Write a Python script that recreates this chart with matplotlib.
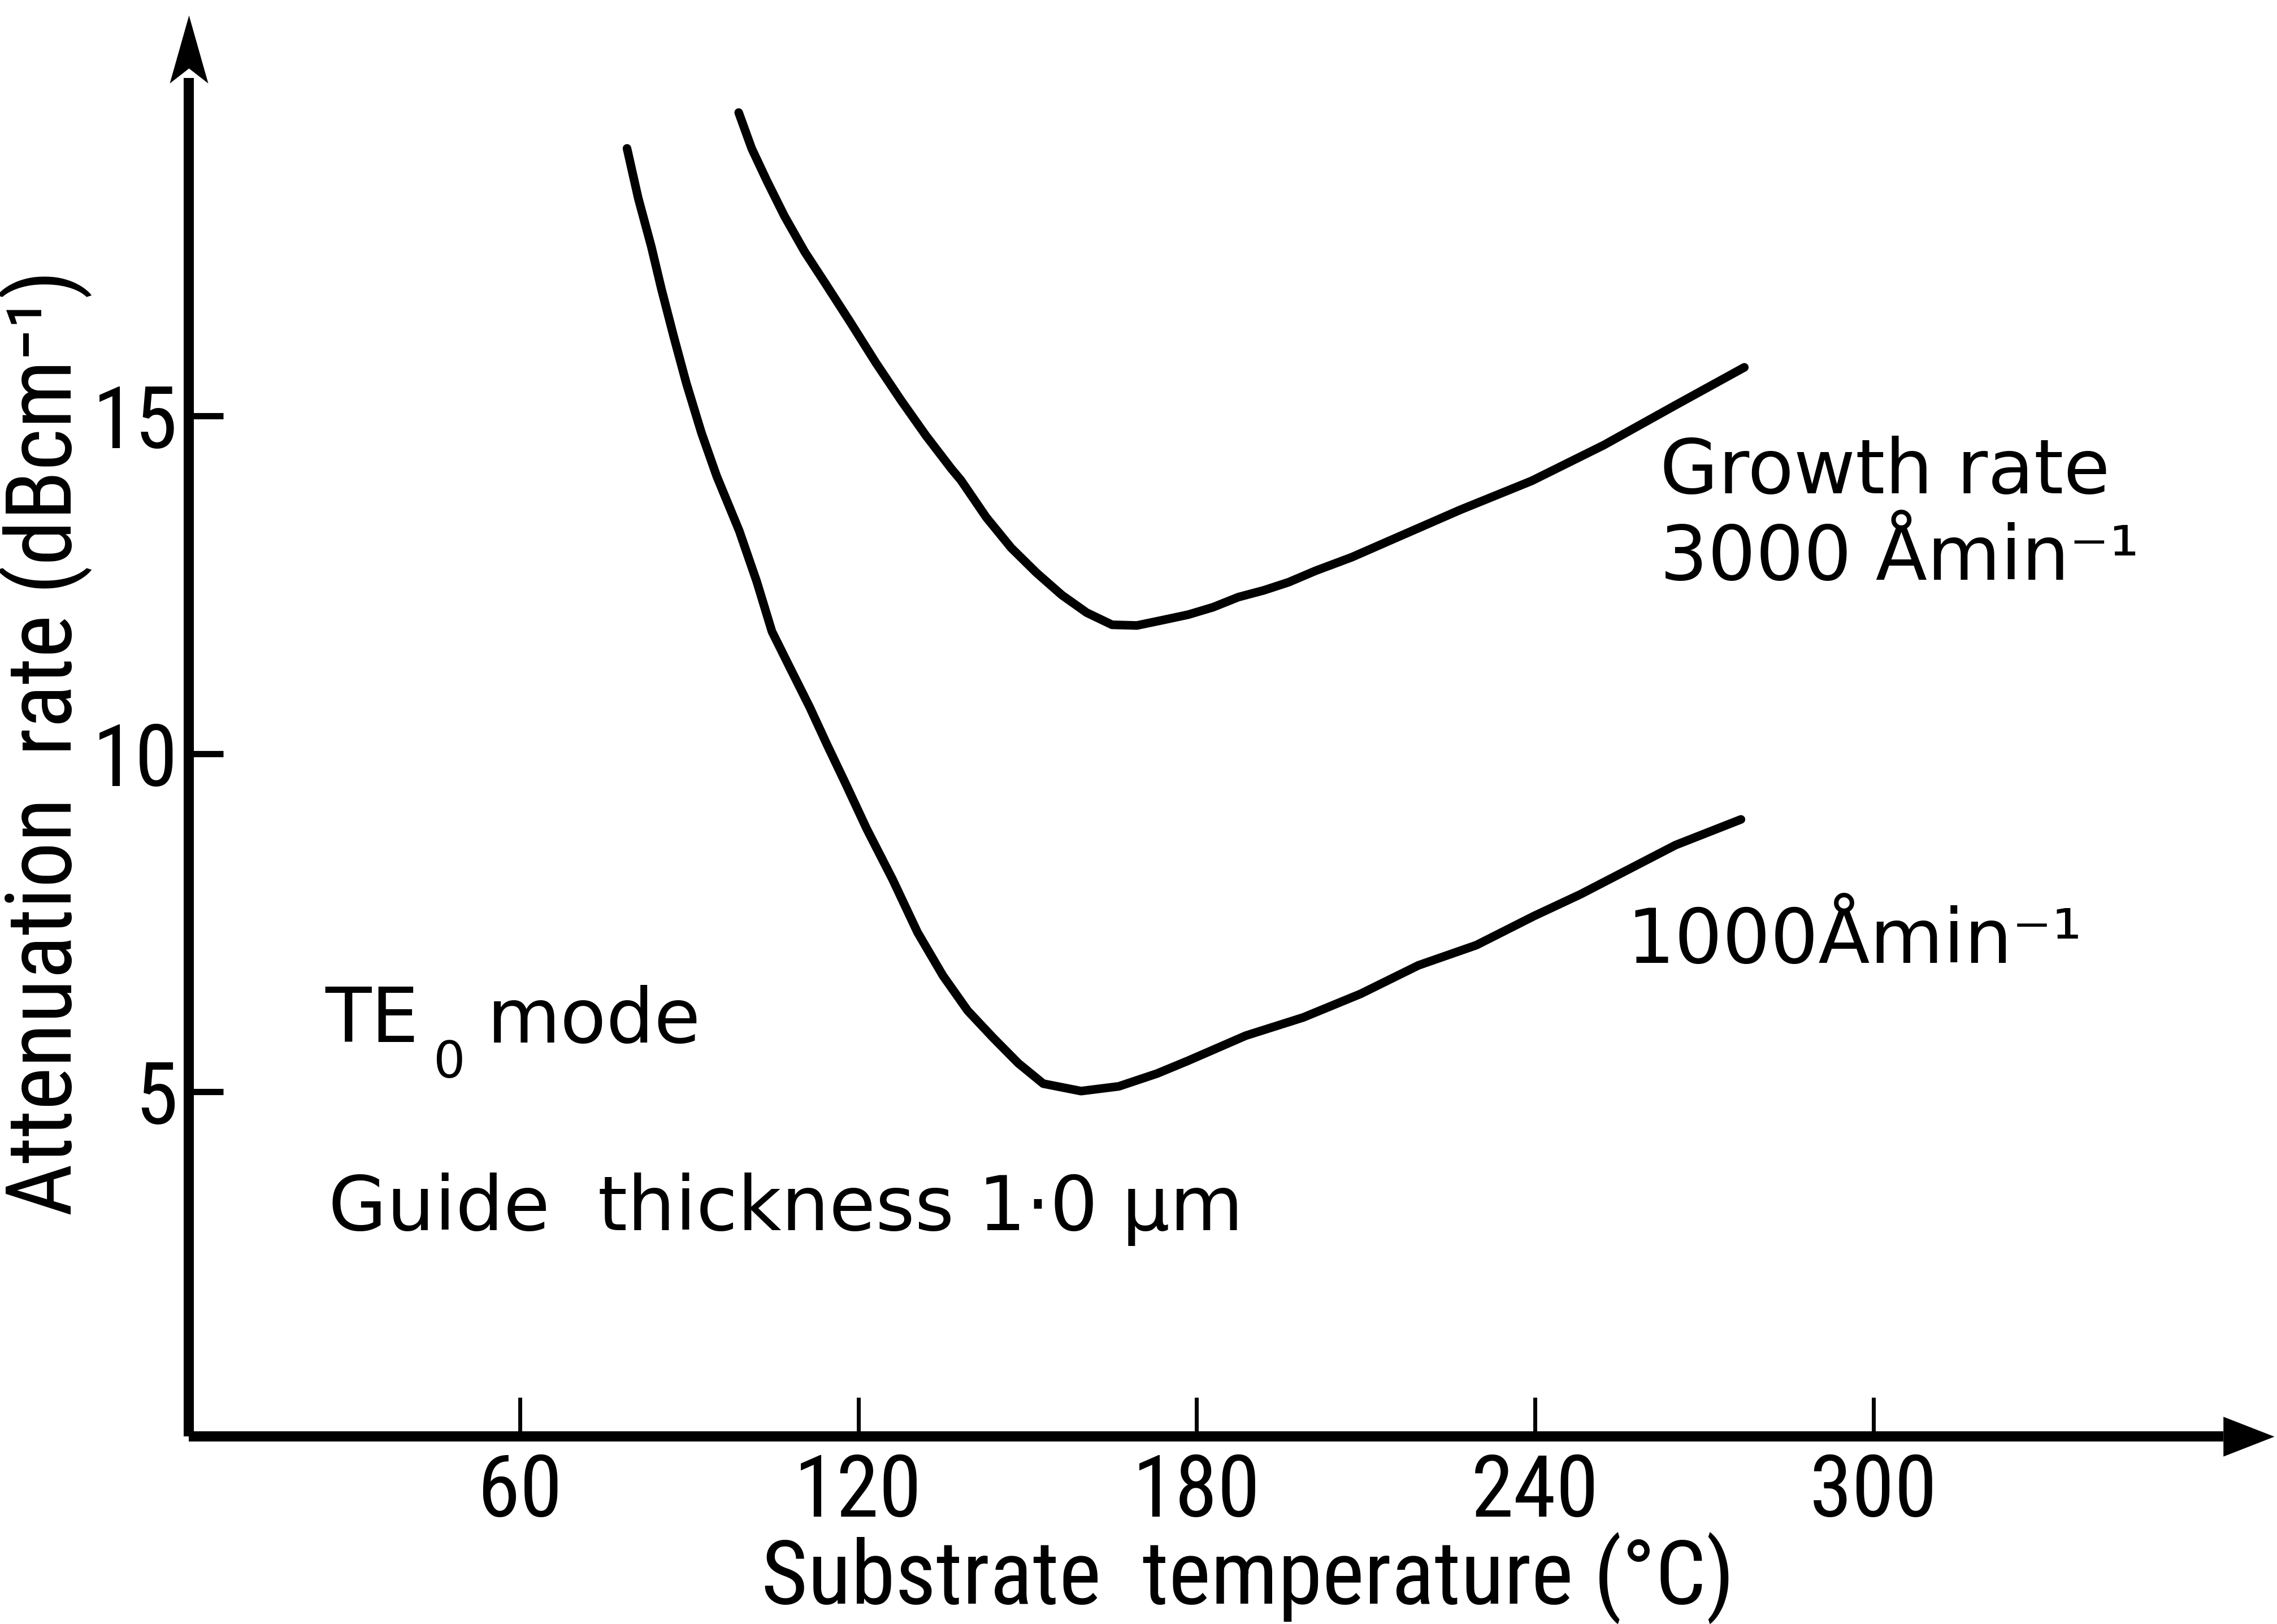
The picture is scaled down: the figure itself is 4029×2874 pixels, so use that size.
import matplotlib
matplotlib.use("Agg")
import matplotlib.pyplot as plt
from matplotlib import font_manager as fm

# Attenuation of TE0 mode vs substrate temperature, two film growth rates
temp_1000 = [79.0, 81.0, 83.3, 85.1, 87.3, 89.5, 92.2, 94.9, 98.9, 102.0, 104.7,
             107.8, 111.4, 114.5, 117.7, 121.5, 126.1, 130.5, 135.0, 139.4, 143.9,
             148.4, 152.8, 159.5, 166.2, 173.0, 178.5, 188.7, 198.9, 209.1, 219.3,
             229.6, 239.8, 248.0, 264.9, 276.5]
att_1000 = [18.96, 18.22, 17.51, 16.88, 16.17, 15.49, 14.75, 14.11, 13.30, 12.55,
            11.81, 11.29, 10.69, 10.13, 9.57, 8.89, 8.14, 7.36, 6.72, 6.20, 5.80,
            5.42, 5.12, 5.01, 5.08, 5.27, 5.46, 5.83, 6.10, 6.45, 6.87, 7.17, 7.60,
            7.92, 8.65, 9.03]

temp_3000 = [98.8, 101.1, 103.8, 106.9, 110.5, 114.1, 118.5, 123.1, 127.6, 132.0,
             136.5, 138.2, 142.7, 147.1, 151.6, 156.1, 160.5, 165.0, 169.4, 174.0,
             178.5, 182.9, 187.4, 191.9, 196.3, 201.1, 207.5, 213.8, 226.7, 239.4,
             252.2, 264.9, 277.1]
att_3000 = [19.49, 18.96, 18.48, 17.96, 17.43, 16.97, 16.40, 15.79, 15.23, 14.71,
            14.22, 14.05, 13.50, 13.05, 12.68, 12.35, 12.09, 11.91, 11.90, 11.98,
            12.06, 12.17, 12.32, 12.42, 12.54, 12.71, 12.91, 13.14, 13.61, 14.04,
            14.57, 15.16, 15.72]

x_ticks = [60, 120, 180, 240, 300]
x_ticklabels = ["60", "120", "180", "240", "300"]
y_ticks = [5, 10, 15]
y_ticklabels = ["5", "10", "15"]

x_label = "Substrate  temperature (°C)"
y_label = "Attenuation  rate (dBcm⁻¹)"


def condensed_font():
    names = {f.name for f in fm.fontManager.ttflist}
    for n in ["Liberation Sans Narrow", "Roboto Condensed", "Open Sans Condensed",
              "Noto Sans Condensed", "DejaVu Sans Condensed"]:
        if n in names:
            return fm.FontProperties(family=n)
    for f in fm.fontManager.ttflist:
        if (f.name in ("DejaVu Sans", "Noto Sans", "Open Sans", "Roboto")
                and str(f.stretch) in ("condensed", "semi-condensed")
                and f.style == "normal"
                and str(f.weight) in ("400", "normal", "regular", "book", "Book")):
            return fm.FontProperties(fname=f.fname)
    return None


cond = condensed_font()
if cond is not None:
    tick_fp = cond.copy(); tick_fp.set_size(110)
    xlab_fp = cond.copy(); xlab_fp.set_size(114)
    ylab_fp = cond.copy(); ylab_fp.set_size(116)
else:
    tick_fp = fm.FontProperties(family="DejaVu Sans", size=94)
    xlab_fp = fm.FontProperties(family="DejaVu Sans", size=90)
    ylab_fp = fm.FontProperties(family="DejaVu Sans", size=88)

W, H = 4030, 2874
fig = plt.figure(figsize=(W / 100, H / 100), dpi=100)
ax = fig.add_axes([334 / W, 1 - 2542 / H, (4023.6 - 334) / W, (2542 - 27) / H])
ax.set_xlim(1.3, 371)
ax.set_ylim(-0.1, 20.93)

# axis lines with arrowheads
for side in ("top", "right"):
    ax.spines[side].set_visible(False)
for side in ("left", "bottom"):
    ax.spines[side].set_linewidth(13)
    ax.spines[side].set_capstyle("butt")
ax.spines["bottom"].set_bounds(1.3, 362)
ax.spines["left"].set_bounds(-0.1, 20.0)

head_x = [(0, 0), (-1, -0.39), (-1, 0.39), (0, 0)]
head_y = [(0, 0), (0.283, -1), (0, -0.78), (-0.283, -1), (0, 0)]
ax.plot([1], [0], transform=ax.transAxes, marker=head_x, ms=130, color="black",
        mew=0, clip_on=False, ls="none")
ax.plot([0], [1], transform=ax.transAxes, marker=head_y, ms=173, color="black",
        mew=0, clip_on=False, ls="none")

# curves
ax.plot(temp_3000, att_3000, color="black", lw=11, solid_capstyle="round",
        solid_joinstyle="round")
ax.plot(temp_1000, att_1000, color="black", lw=11, solid_capstyle="round",
        solid_joinstyle="round")

# ticks
ax.set_xticks(x_ticks)
ax.set_xticklabels(x_ticklabels)
ax.set_yticks(y_ticks)
ax.set_yticklabels(y_ticklabels)
ax.tick_params(axis="x", direction="in", length=50, width=5, pad=20)
ax.tick_params(axis="y", direction="in", length=44, width=8, pad=14)
for t in ax.get_xticklabels() + ax.get_yticklabels():
    t.set_fontproperties(tick_fp)

# axis titles
fig.text(2208 / W, 1 - 2838 / H, x_label, fontproperties=xlab_fp,
         ha="center", va="baseline")
fig.text(126 / W, 1 - 1315 / H, y_label, fontproperties=ylab_fp, rotation=90,
         rotation_mode="anchor", ha="center", va="baseline")

# annotations
txt = dict(family="DejaVu Sans", size=96, color="black", va="baseline")
ax.text(262.1, 13.86, "Growth rate", **txt)
ax.text(262.1, 12.58, "3000 Åmin⁻¹", **txt)
ax.text(256.2, 6.91, "1000Åmin⁻¹", **txt)
ax.text(25.5, 5.74, "TE", **txt)
ax.text(44.6, 5.21, "0", family="DejaVu Sans", size=64, va="baseline")
ax.text(54.2, 5.73, "mode", **txt)
ax.text(26.0, 2.95, "Guide  thickness 1·0 µm", **txt)

fig.savefig("out.png", dpi=100, facecolor="white")
